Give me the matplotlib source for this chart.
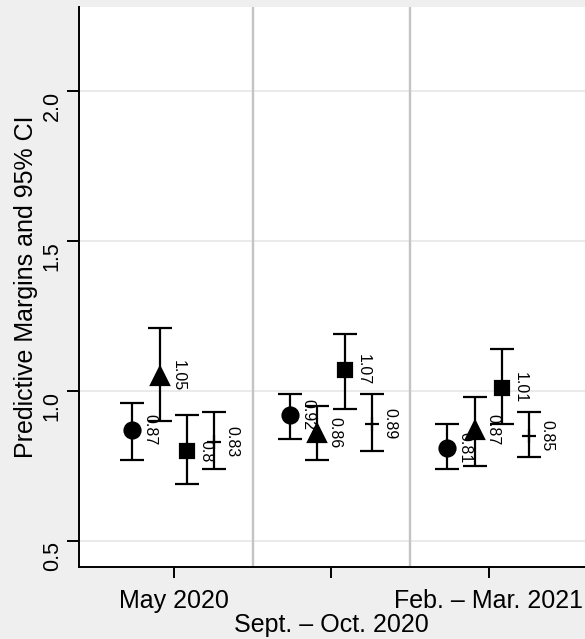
import matplotlib.pyplot as plt
import numpy as np

plt.rcParams['font.family'] = ['Liberation Sans', 'DejaVu Sans']

periods = ['May 2020', 'Sept. – Oct. 2020', 'Feb. – Mar. 2021']

# four estimates per period: circle, triangle, square, plain
circle = [0.87, 0.92, 0.81]
circle_lo = [0.77, 0.84, 0.74]
circle_hi = [0.96, 0.99, 0.89]

triangle = [1.05, 0.86, 0.87]
triangle_lo = [0.90, 0.77, 0.75]
triangle_hi = [1.21, 0.95, 0.98]

square = [0.80, 1.07, 1.01]
square_lo = [0.69, 0.94, 0.89]
square_hi = [0.92, 1.19, 1.14]

plain = [0.83, 0.89, 0.85]
plain_lo = [0.74, 0.80, 0.78]
plain_hi = [0.93, 0.99, 0.93]

labels_circle = ['0.87', '0.92', '0.81']
labels_triangle = ['1.05', '0.86', '0.87']
labels_square = ['0.8', '1.07', '1.01']
labels_plain = ['0.83', '0.89', '0.85']

fig = plt.figure(figsize=(5.85, 6.39), dpi=100, facecolor='#efefef')
ax = fig.add_axes([0.135, 0.113, 0.865, 0.876])
ax.set_facecolor('white')

x = np.arange(1, 4)
series = [
    (circle, circle_lo, circle_hi, labels_circle, 'o', 11.5, -0.265),
    (triangle, triangle_lo, triangle_hi, labels_triangle, '^', 12.5, -0.09),
    (square, square_lo, square_hi, labels_square, 's', 10.5, 0.085),
    (plain, plain_lo, plain_hi, labels_plain, '+', 10, 0.255),
]

for est, lo, hi, lab, mk, ms, off in series:
    est = np.array(est)
    err = [est - np.array(lo), np.array(hi) - est]
    xs = x + off
    ax.errorbar(xs, est, yerr=err, fmt=mk, color='black', markersize=ms,
                ecolor='black', elinewidth=1.6, capsize=8.5, capthick=1.6,
                mew=1.6, zorder=3)
    for xi, yi, t in zip(xs, est, lab):
        ax.annotate(t, (xi, yi), xytext=(13, 0), textcoords='offset points',
                    rotation=270, ha='center', va='center', fontsize=11.5,
                    zorder=4)

for sep in [1.5, 2.5]:
    ax.axvline(sep, color='#c4c4c4', linewidth=1.7, zorder=1)

ax.set_ylim(0.413, 2.28)
ax.set_xlim(0.397, 3.61)
ax.set_yticks([0.5, 1.0, 1.5, 2.0])
ax.set_yticklabels(['0.5', '1.0', '1.5', '2.0'], rotation=90, va='top', fontsize=15.5)
ax.yaxis.grid(True, color='#eaeaea', linewidth=1.4, zorder=0)
ax.set_axisbelow(True)

# alternate x labels: middle one drops a line
ax.set_xticks(x)
ax.set_xticklabels([periods[0], '', periods[2]], fontsize=18)
ax.annotate(periods[1], (2, 0), xycoords=('data', 'axes fraction'),
            xytext=(0, -33), textcoords='offset points',
            ha='center', va='top', fontsize=18)
ax.tick_params(axis='y', length=8.6, width=1.4, pad=3)
ax.tick_params(axis='x', length=8, width=1.4, pad=8)

ax.spines['top'].set_visible(False)
ax.spines['right'].set_visible(False)
ax.spines['left'].set_linewidth(1.4)
ax.spines['bottom'].set_linewidth(1.4)

ax.set_ylabel('Predictive Margins and 95% CI', fontsize=18, labelpad=3)

fig.savefig('out.png', dpi=100, facecolor=fig.get_facecolor())
